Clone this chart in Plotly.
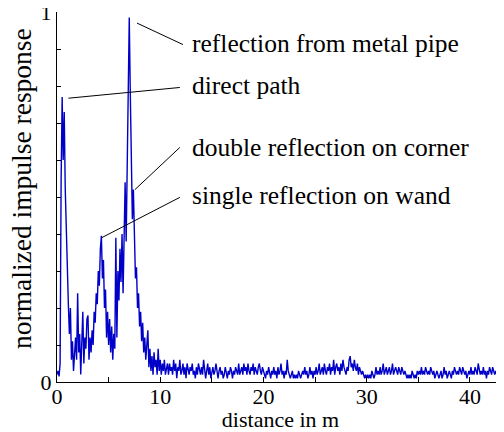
import plotly.graph_objects as go

# ---------------- data ----------------
distance_start_m = 0.0
distance_step_m = 0.1

# normalized impulse response, one value every 0.1 m starting at 0 m
response_0_to_11m = [
    0.02, 0.03, 0.015, 0.05, 0.55, 0.77, 0.60, 0.73, 0.52, 0.40,   # 0.0 - 0.9
    0.36, 0.21, 0.13, 0.20, 0.06, 0.11, 0.03, 0.09, 0.12, 0.06,    # 1.0 - 1.9
    0.24, 0.08, 0.13, 0.02, 0.10, 0.19, 0.05, 0.12, 0.09, 0.17,    # 2.0 - 2.9
    0.18, 0.06, 0.12, 0.08, 0.14, 0.10, 0.19, 0.16, 0.24, 0.21,    # 3.0 - 3.9
    0.30, 0.26, 0.36, 0.395, 0.28, 0.33, 0.20, 0.25, 0.12, 0.19,   # 4.0 - 4.9
    0.10, 0.17, 0.08, 0.15, 0.06, 0.13, 0.09, 0.39, 0.12, 0.30,    # 5.0 - 5.9
    0.22, 0.36, 0.27, 0.40, 0.24, 0.45, 0.54, 0.38, 0.62, 0.84,    # 6.0 - 6.9
    0.985, 0.78, 0.62, 0.44, 0.52, 0.34, 0.28, 0.31, 0.20, 0.24,   # 7.0 - 7.9
    0.15, 0.19, 0.11, 0.16, 0.08, 0.12, 0.06, 0.10, 0.14, 0.04,    # 8.0 - 8.9
    0.09, 0.03, 0.07, 0.02, 0.08, 0.04, 0.06, 0.02, 0.09, 0.03,    # 9.0 - 9.9
    0.06, 0.02, 0.05, 0.03, 0.06, 0.02, 0.04, 0.05, 0.02, 0.05,    # 10.0 - 10.9
    0.03,                                                          # 11.0
]

response_11_to_43m = [
    0.04, 0.02, 0.06, 0.03, 0.05, 0.01, 0.04, 0.03, 0.06, 0.02,
    0.03, 0.05, 0.02, 0.04, 0.01, 0.05, 0.03, 0.02, 0.04, 0.03,
    0.05, 0.02, 0.03, 0.01, 0.04, 0.02, 0.05, 0.03, 0.02, 0.04,
    0.02, 0.06, 0.03, 0.01, 0.03, 0.05, 0.02, 0.04, 0.01, 0.03,
    0.04, 0.02, 0.03, 0.05, 0.02, 0.01, 0.03, 0.04, 0.02, 0.03,
    0.01, 0.02, 0.04, 0.02, 0.01, 0.03, 0.02, 0.04, 0.03, 0.01,
    0.03, 0.02, 0.04, 0.03, 0.02, 0.05, 0.02, 0.03, 0.04, 0.02,
    0.05, 0.03, 0.04, 0.02, 0.05, 0.03, 0.02, 0.04, 0.03, 0.05,
    0.02, 0.04, 0.03, 0.02, 0.04, 0.05, 0.03, 0.02, 0.04, 0.03,
    0.02, 0.01, 0.03, 0.02, 0.04, 0.02, 0.01, 0.03, 0.02, 0.04,
    0.02, 0.03, 0.01, 0.04, 0.02, 0.03, 0.05, 0.02, 0.03, 0.01,
    0.03, 0.02, 0.06, 0.03, 0.02, 0.01, 0.02, 0.03, 0.01, 0.02,
    0.01, 0.02, 0.01, 0.03, 0.02, 0.01, 0.02, 0.03, 0.02, 0.04,
    0.02, 0.03, 0.01, 0.02, 0.04, 0.02, 0.03, 0.01, 0.03, 0.02,
    0.04, 0.02, 0.03, 0.05, 0.02, 0.03, 0.04, 0.02, 0.05, 0.03,
    0.02, 0.04, 0.03, 0.05, 0.02, 0.04, 0.03, 0.06, 0.02, 0.04,
    0.05, 0.03, 0.04, 0.02, 0.05, 0.03, 0.06, 0.04, 0.03, 0.02,
    0.04, 0.03, 0.06, 0.07, 0.04, 0.05, 0.03, 0.06, 0.04, 0.03,
    0.05, 0.02, 0.04, 0.03, 0.02, 0.03, 0.02, 0.01, 0.02, 0.01,
    0.02, 0.01, 0.02, 0.01, 0.03, 0.02, 0.01, 0.02, 0.04, 0.02,
    0.03, 0.02, 0.04, 0.02, 0.03, 0.05, 0.02, 0.03, 0.04, 0.02,
    0.03, 0.04, 0.02, 0.03, 0.05, 0.02, 0.03, 0.04, 0.03, 0.02,
    0.04, 0.03, 0.02, 0.04, 0.03, 0.02, 0.03, 0.02, 0.01, 0.02,
    0.01, 0.02, 0.01, 0.03, 0.02, 0.01, 0.02, 0.01, 0.03, 0.02,
    0.03, 0.02, 0.04, 0.02, 0.03, 0.02, 0.04, 0.03, 0.02, 0.03,
    0.02, 0.04, 0.03, 0.02, 0.03, 0.01, 0.02, 0.03, 0.02, 0.01,
    0.02, 0.03, 0.01, 0.02, 0.04, 0.02, 0.03, 0.01, 0.02, 0.03,
    0.02, 0.01, 0.03, 0.02, 0.04, 0.03, 0.02, 0.03, 0.02, 0.04,
    0.03, 0.02, 0.04, 0.03, 0.02, 0.03, 0.01, 0.02, 0.03, 0.02,
    0.04, 0.02, 0.03, 0.02, 0.04, 0.03, 0.02, 0.05, 0.03, 0.02,
    0.03, 0.02, 0.04, 0.02, 0.03, 0.01, 0.03, 0.02, 0.04, 0.03,
    0.02, 0.04, 0.03, 0.02, 0.03, 0.02, 0.04, 0.02, 0.03, 0.02,
    0.03, 0.02, 0.03,
]

x_tick_values = [0, 5, 10, 15, 20, 25, 30, 35, 40]
x_tick_labels = ["0", "", "10", "", "20", "", "30", "", "40"]
y_tick_values = [0, 0.1, 0.2, 0.3, 0.4, 0.5, 0.6, 0.7, 0.8, 0.9, 1.0]
y_tick_labels = ["0", "", "", "", "", "", "", "", "", "", "1"]

x_axis_title = "distance in m"
y_axis_title = "normalized impulse response"

# annotation texts and their leader-line geometry (data coordinates)
label_texts = [
    "reflection from metal pipe",
    "direct path",
    "double reflection on corner",
    "single reflection on wand",
]
leader_start_x = [7.75, 1.10, 7.55, 4.33]
leader_start_y = [0.970, 0.767, 0.520, 0.390]
leader_end_x = [12.2, 11.9, 11.9, 11.9]
leader_end_y = [0.912, 0.796, 0.634, 0.499]
label_x = [12.85, 12.85, 12.85, 12.85]
label_y = [0.915, 0.801, 0.633, 0.503]

# ---------------- figure ----------------
serif = "Liberation Serif"
response = response_0_to_11m + response_11_to_43m

fig = go.Figure()
fig.add_trace(go.Scatter(
    y=response,
    x0=distance_start_m,
    dx=distance_step_m,
    mode="lines",
    line=dict(color="#0000c8", width=1.4),
    showlegend=False,
    hoverinfo="skip",
))

shapes = []
annotations = []
for i, text in enumerate(label_texts):
    shapes.append(dict(
        type="line", xref="x", yref="y",
        x0=leader_start_x[i], y0=leader_start_y[i],
        x1=leader_end_x[i], y1=leader_end_y[i],
        line=dict(color="black", width=1),
    ))
    annotations.append(dict(
        x=label_x[i], y=label_y[i], xref="x", yref="y",
        text=text, showarrow=False, xanchor="left", yanchor="middle",
        font=dict(family=serif, size=25.5, color="black"),
    ))

# y-axis title, placed as a rotated annotation left of the tick labels
annotations.append(dict(
    x=-0.078, y=0.522, xref="paper", yref="paper",
    text=y_axis_title, textangle=-90, showarrow=False,
    xanchor="center", yanchor="middle",
    font=dict(family=serif, size=27.5, color="black"),
))

# the page body adds an 8 px offset, so the figure is 8 px smaller
fig.update_layout(
    width=496, height=424,
    margin=dict(l=49, r=0, t=4, b=50),
    paper_bgcolor="white", plot_bgcolor="white",
    shapes=shapes, annotations=annotations,
    font=dict(family=serif, color="black"),
)
fig.update_xaxes(
    range=[0, 43.3], showgrid=False, zeroline=False,
    showline=True, linecolor="black", linewidth=1,
    ticks="inside", ticklen=5, tickcolor="black",
    tickvals=x_tick_values, ticktext=x_tick_labels,
    tickfont=dict(family=serif, size=22, color="black"),
    ticklabelstandoff=-5, ticklabeloverflow="allow",
    title=dict(text=x_axis_title, font=dict(family=serif, size=22, color="black"), standoff=0),
    automargin=False,
)
fig.update_yaxes(
    range=[0, 1], showgrid=False, zeroline=False,
    showline=True, linecolor="black", linewidth=1,
    ticks="inside", ticklen=4, tickcolor="black",
    tickvals=y_tick_values, ticktext=y_tick_labels,
    tickfont=dict(family=serif, size=22, color="black"),
    ticklabeloverflow="allow",
    automargin=False,
)

fig.write_html("out.html")
